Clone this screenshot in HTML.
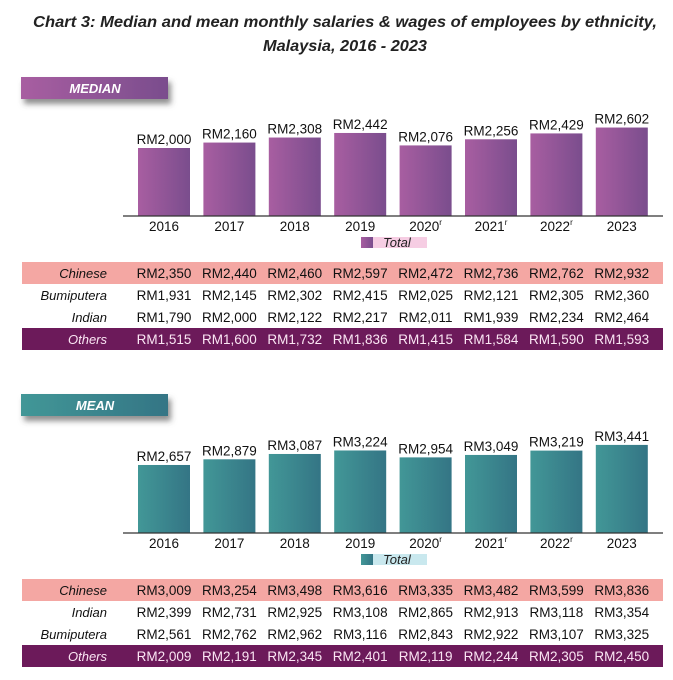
<!DOCTYPE html>
<html><head><meta charset="utf-8"><style>
html,body{margin:0;padding:0;background:#fff;}
svg{display:block;font-family:"Liberation Sans",sans-serif;}
</style></head><body>
<svg id="chart" width="673" height="680" viewBox="0 0 673 680">
<defs>
<linearGradient id="gp" x1="0" x2="1"><stop offset="0" stop-color="#a85ea1"/><stop offset="1" stop-color="#7a4d8d"/></linearGradient>
<linearGradient id="gt" x1="0" x2="1"><stop offset="0" stop-color="#429797"/><stop offset="1" stop-color="#347585"/></linearGradient>
<filter id="sh" x="-10%" y="-30%" width="130%" height="200%"><feDropShadow dx="3" dy="5" stdDeviation="3" flood-color="#444" flood-opacity="0.6"/></filter>
</defs>
<text x="345" y="27" text-anchor="middle" font-size="16" font-weight="bold" font-style="italic" fill="#222" textLength="624" lengthAdjust="spacingAndGlyphs">Chart 3: Median and mean monthly salaries &amp; wages of employees by ethnicity,</text>
<text x="345" y="51" text-anchor="middle" font-size="16" font-weight="bold" font-style="italic" fill="#222" textLength="164" lengthAdjust="spacingAndGlyphs">Malaysia, 2016 - 2023</text>
<g id="root"></g>
</svg>
<script>
const years = ["2016","2017","2018","2019","2020","2021","2022","2023"];
const revised = [false,false,false,false,true,true,true,false];
const medianTotal = [2000,2160,2308,2442,2076,2256,2429,2602];
const meanTotal = [2657,2879,3087,3224,2954,3049,3219,3441];
const medianRowLabels = ["Chinese","Bumiputera","Indian","Others"];
const medianRows = [
 [2350,2440,2460,2597,2472,2736,2762,2932],
 [1931,2145,2302,2415,2025,2121,2305,2360],
 [1790,2000,2122,2217,2011,1939,2234,2464],
 [1515,1600,1732,1836,1415,1584,1590,1593]];
const meanRowLabels = ["Chinese","Indian","Bumiputera","Others"];
const meanRows = [
 [3009,3254,3498,3616,3335,3482,3599,3836],
 [2399,2731,2925,3108,2865,2913,3118,3354],
 [2561,2762,2962,3116,2843,2922,3107,3325],
 [2009,2191,2345,2401,2119,2244,2305,2450]];

const NS="http://www.w3.org/2000/svg";
const root=document.getElementById('root');
function mk(tag,attrs,parent,text){const e=document.createElementNS(NS,tag);for(const k in attrs)e.setAttribute(k,attrs[k]);if(text!==undefined)e.textContent=text;(parent||root).appendChild(e);return e;}
const fmt=v=>"RM"+v.toLocaleString("en-US");
const xCenter=i=>164+i*65.4;

function panel(cfg){
  const g=mk('g',{});
  
  
  // header
  const hb=mk('rect',{x:21,y:cfg.hy,width:147,height:22,fill:cfg.grad,filter:'url(#sh)'},g);
  
  
  const ht=mk('text',{x:95,y:cfg.hy+16,'text-anchor':'middle','font-size':13,'font-weight':'bold','font-style':'italic',fill:'#fff'},g,cfg.title);
  
  
  const y=v=>cfg.base-v*cfg.scale;
  cfg.totals.forEach((v,i)=>{
    const b=mk('rect',{x:xCenter(i)-26,y:y(v),width:52,height:cfg.base-y(v),fill:cfg.grad},g);
    
    
    const l=mk('text',{x:xCenter(i),y:y(v)-4,'text-anchor':'middle','font-size':13.5,fill:'#111'},g,fmt(v));
    
    
    const t=mk('text',{x:xCenter(i),y:cfg.base+15,'text-anchor':'middle','font-size':13.5,fill:'#111'},g,years[i]);
    
    
    if(revised[i]){const s=mk('tspan',{'font-size':8,dy:-6},t,'r');}
  });
  const ax=mk('line',{x1:123,x2:663,y1:cfg.base,y2:cfg.base,stroke:'#333','stroke-width':1.2},g);
  
  
  // legend
  const lb=mk('rect',{x:373,y:cfg.base+21,width:54,height:11,fill:cfg.legBg},g);
  
  
  const ls=mk('rect',{x:361,y:cfg.base+21,width:12,height:11,fill:cfg.grad},g);
  
  
  const lt=mk('text',{x:383,y:cfg.base+31,'font-size':13,'font-style':'italic',fill:'#222'},g,'Total');
  
  
  // table
  const rowY=[cfg.ty,cfg.ty+22,cfg.ty+44,cfg.ty+66];
  cfg.rows.forEach((row,r)=>{
    const ry=rowY[r];
    if(r===0||r===3){
      const bg=mk('rect',{x:22,y:ry,width:641,height:22,fill:r===0?'#f4a7a3':'#6c1a5a'},g);
      
      
    }
    const col=r===3?'#fbe6f4':'#111';
    const lab=mk('text',{x:107,y:ry+16,'text-anchor':'end','font-size':13,'font-style':'italic',fill:col},g,cfg.labels[r]);
    
    
    row.forEach((v,i)=>{
      const c=mk('text',{x:xCenter(i),y:ry+16,'text-anchor':'middle','font-size':13.5,fill:col},g,fmt(v));
      
      
    });
  });
}
panel({name:'median',title:'MEDIAN',hy:77,grad:'url(#gp)',legBg:'#f6cde3',base:216,scale:0.0340,totals:medianTotal,rows:medianRows,labels:medianRowLabels,ty:262});
panel({name:'mean',title:'MEAN',hy:394,grad:'url(#gt)',legBg:'#c9e8ee',base:533,scale:0.0256,totals:meanTotal,rows:meanRows,labels:meanRowLabels,ty:579});
</script>
</body></html>
